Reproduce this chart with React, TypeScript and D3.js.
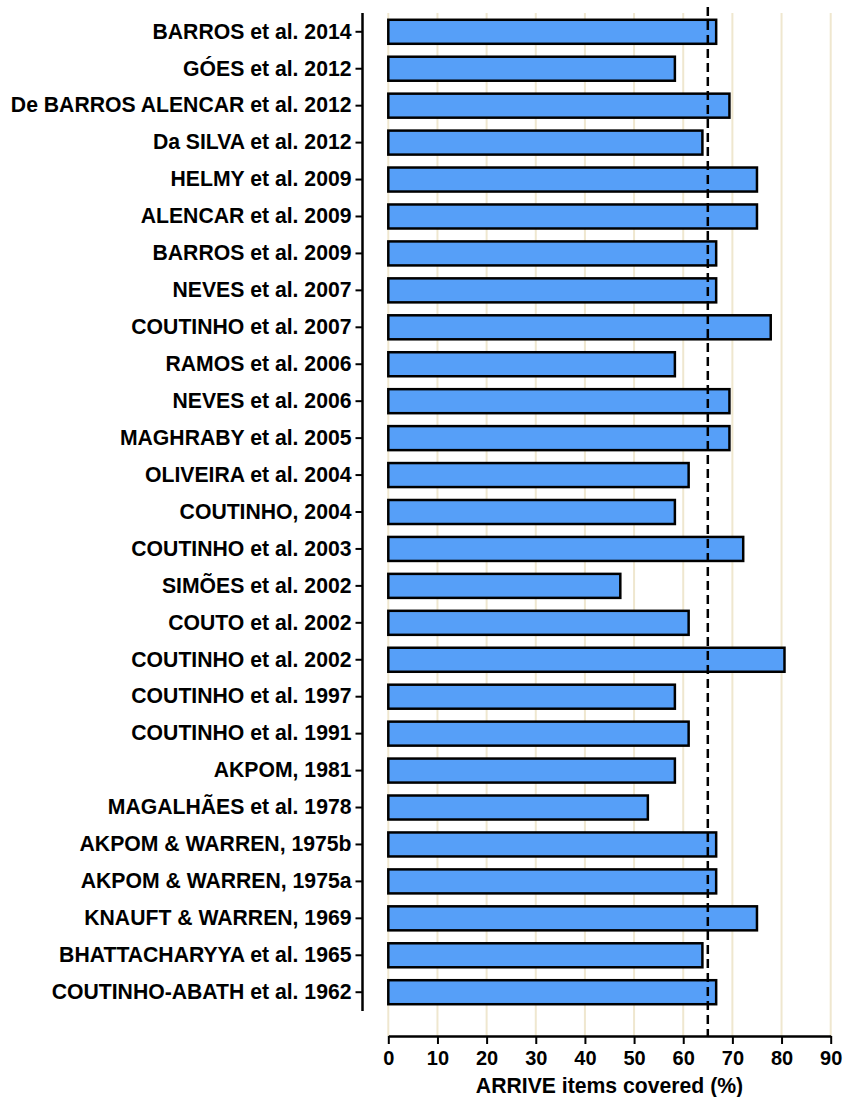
import React, { useEffect, useRef } from 'react';
import * as d3 from 'd3';

// studies, top to bottom
const studies = [
    'BARROS et al. 2014',
    'GÓES et al. 2012',
    'De BARROS ALENCAR et al. 2012',
    'Da SILVA et al. 2012',
    'HELMY et al. 2009',
    'ALENCAR et al. 2009',
    'BARROS et al. 2009',
    'NEVES et al. 2007',
    'COUTINHO et al. 2007',
    'RAMOS et al. 2006',
    'NEVES et al. 2006',
    'MAGHRABY et al. 2005',
    'OLIVEIRA et al. 2004',
    'COUTINHO, 2004',
    'COUTINHO et al. 2003',
    'SIMÕES et al. 2002',
    'COUTO et al. 2002',
    'COUTINHO et al. 2002',
    'COUTINHO et al. 1997',
    'COUTINHO et al. 1991',
    'AKPOM, 1981',
    'MAGALHÃES et al. 1978',
    'AKPOM & WARREN, 1975b',
    'AKPOM & WARREN, 1975a',
    'KNAUFT & WARREN, 1969',
    'BHATTACHARYYA et al. 1965',
    'COUTINHO-ABATH et al. 1962',
];

const coverage = [
    66.7, 58.3, 69.4, 63.9, 75.0, 75.0, 66.7, 66.7, 77.8, 58.3,
    69.4, 69.4, 61.1, 58.3, 72.2, 47.2, 61.1, 80.6, 58.3, 61.1,
    58.3, 52.8, 66.7, 66.7, 75.0, 63.9, 66.7,
];

const meanLine = 65;
const xTicks = [0, 10, 20, 30, 40, 50, 60, 70, 80, 90];
const xTitle = 'ARRIVE items covered (%)';

const App: React.FC = () => {
    const svgRef = useRef<SVGSVGElement>(null);

    useEffect(() => {
        const width = 843;
        const height = 1097;
        const font = '"Liberation Sans", Arial, sans-serif';

        d3.select(svgRef.current).selectAll('*').remove();
        const svg = d3.select(svgRef.current)
            .attr('width', width)
            .attr('height', height)
            .style('background', '#fff');

        const x = d3.scaleLinear().domain([0, 90]).range([388.3, 830.7]);
        const y = d3.scaleBand<string>()
            .domain(studies)
            .range([13.5, 1010.5])
            .paddingInner(0.35)
            .paddingOuter(0.17);

        const axisY = 1036;
        const yAxisX = 362.5;

        // beige gridlines
        svg.append('g')
            .selectAll('line')
            .data(xTicks)
            .join('line')
            .attr('x1', d => x(d))
            .attr('x2', d => x(d))
            .attr('y1', 13)
            .attr('y2', axisY)
            .attr('stroke', '#efe7cf')
            .attr('stroke-width', 2);

        // bars
        svg.append('g')
            .selectAll('rect')
            .data(coverage)
            .join('rect')
            .attr('x', x(0))
            .attr('y', (_, i) => y(studies[i]) as number)
            .attr('width', d => x(d) - x(0))
            .attr('height', y.bandwidth())
            .attr('fill', '#569ff8')
            .attr('stroke', '#000')
            .attr('stroke-width', 2.5);

        // dashed reference line
        svg.append('line')
            .attr('x1', x(meanLine))
            .attr('x2', x(meanLine))
            .attr('y1', 7)
            .attr('y2', axisY)
            .attr('stroke', '#000')
            .attr('stroke-width', 2.5)
            .attr('stroke-dasharray', '9,5');

        // y axis
        const yAxis = svg.append('g')
            .attr('transform', `translate(${yAxisX},0)`)
            .call(d3.axisLeft(y).tickSize(7).tickPadding(4).tickSizeOuter(0));
        yAxis.select('.domain').remove();
        yAxis.append('line')
            .attr('y1', 13)
            .attr('y2', 1011)
            .attr('stroke', '#000')
            .attr('stroke-width', 2.5);
        yAxis.selectAll('.tick line').attr('stroke-width', 2);
        yAxis.selectAll('.tick text')
            .attr('fill', '#000')
            .style('font-family', font)
            .style('font-weight', 'bold')
            .style('font-size', '21.2px');

        // x axis
        const xAxis = svg.append('g')
            .attr('transform', `translate(0,${axisY})`)
            .call(d3.axisBottom(x).tickValues(xTicks).tickSize(8).tickPadding(7).tickSizeOuter(0));
        xAxis.select('.domain').attr('stroke-width', 2.5);
        xAxis.selectAll('.tick line').attr('stroke-width', 2);
        xAxis.selectAll('.tick text')
            .attr('fill', '#000')
            .style('font-family', font)
            .style('font-weight', 'bold')
            .style('font-size', '20px');

        svg.append('text')
            .attr('x', (x(0) + x(90)) / 2)
            .attr('y', 1093)
            .attr('text-anchor', 'middle')
            .style('font-family', font)
            .style('font-weight', 'bold')
            .style('font-size', '21.2px')
            .text(xTitle);
    }, []);

    return <svg ref={svgRef} style={{ position: 'absolute', left: 0, top: 0 }}></svg>;
};

export default App;
